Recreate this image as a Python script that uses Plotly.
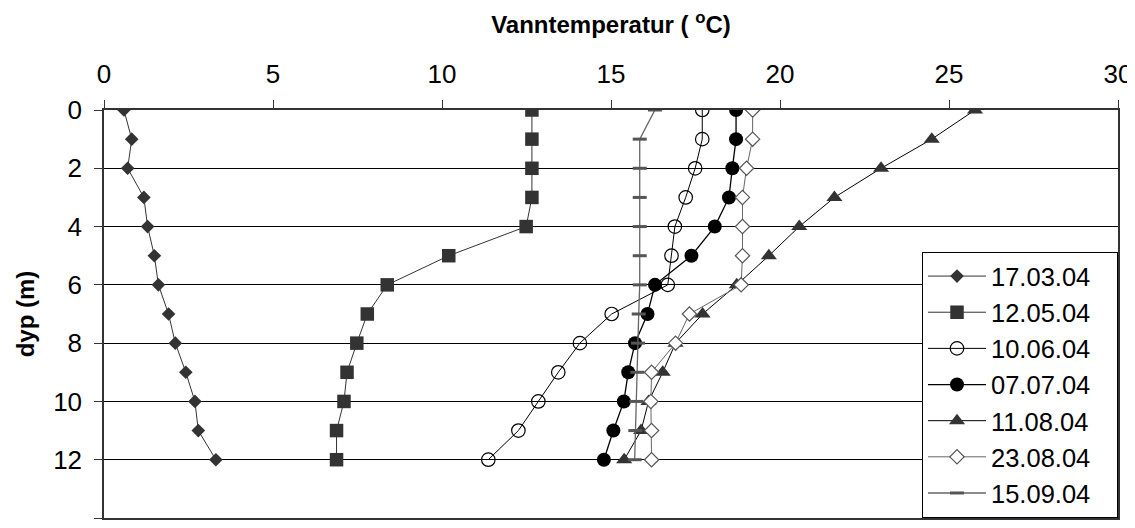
import plotly.graph_objects as go

depth = list(range(13))
dates = ["17.03.04", "12.05.04", "10.06.04", "07.07.04", "11.08.04", "23.08.04", "15.09.04"]
t_1703 = [0.59, 0.82, 0.70, 1.18, 1.29, 1.49, 1.61, 1.91, 2.11, 2.42, 2.69, 2.79, 3.31]
t_1205 = [12.66, 12.66, 12.66, 12.66, 12.49, 10.20, 8.38, 7.79, 7.48, 7.19, 7.10, 6.88, 6.88]
t_1006 = [17.70, 17.70, 17.49, 17.21, 16.89, 16.79, 16.68, 15.02, 14.08, 13.44, 12.85, 12.26, 11.37]
t_0707 = [18.70, 18.70, 18.59, 18.49, 18.07, 17.38, 16.30, 16.08, 15.71, 15.51, 15.38, 15.07, 14.79]
t_1108 = [25.77, 24.49, 22.99, 21.61, 20.57, 19.67, 18.72, 17.71, 16.91, 16.53, 16.11, 15.89, 15.39]
t_2308 = [19.19, 19.19, 19.01, 18.89, 18.89, 18.89, 18.85, 17.32, 16.91, 16.20, 16.18, 16.20, 16.20]
t_1509 = [16.30, 15.85, 15.85, 15.85, 15.85, 15.85, 15.85, 15.82, 15.80, 15.78, 15.75, 15.72, 15.70]

x_ticks = [0, 5, 10, 15, 20, 25, 30]
y_ticks = [0, 2, 4, 6, 8, 10, 12, 14]

FONT = "Liberation Sans, Arial, sans-serif"

series = [
    (t_1703, dict(symbol="diamond", size=10.5, color="#333333"), dict(color="#333333", width=1)),
    (t_1205, dict(symbol="square", size=13.5, color="#333333"), dict(color="#333333", width=1)),
    (t_1006, dict(symbol="circle-open", size=13.5, color="#000000", line=dict(width=1.2)), dict(color="#000000", width=1)),
    (t_0707, dict(symbol="circle", size=14, color="#000000"), dict(color="#000000", width=1.3)),
    (t_1108, dict(symbol="triangle-up", size=14, color="#333333"), dict(color="#000000", width=1)),
    (t_2308, dict(symbol="diamond", size=11, color="#ffffff", line=dict(color="#555555", width=1.2)), dict(color="#666666", width=1)),
    (t_1509, dict(symbol="line-ew", size=10, color="#555555", line=dict(color="#555555", width=3)), dict(color="#666666", width=1.3)),
]

PAD = "\u00a0\u00a0\u00a0"  # right padding inside the legend box

fig = go.Figure()
for name, (vals, mk, ln) in zip(dates, series):
    fig.add_trace(go.Scatter(x=vals, y=depth, mode="lines+markers", name=name + PAD,
                             marker=mk, line=ln))

# page body has an 8px margin; size the figure so it fills the window exactly
fig.update_layout(
    width=1127, height=520,
    margin=dict(l=96, r=17, t=102, b=10),
    paper_bgcolor="white", plot_bgcolor="white",
    font=dict(family=FONT, size=26, color="#000000"),
    showlegend=True,
    legend=dict(x=1, xanchor="right", y=0, yanchor="bottom",
                bgcolor="white", bordercolor="#000000", borderwidth=1,
                font=dict(size=25.5, family=FONT), tracegroupgap=0,
                itemwidth=58),
    xaxis=dict(
        side="top", range=[0, 30], tickvals=x_ticks, ticktext=[str(v) for v in x_ticks],
        showgrid=False, zeroline=False, showline=True, mirror=True,
        linecolor="#333333", linewidth=1.5,
        ticks="outside", ticklen=8, tickcolor="#333333", tickwidth=1,
        ticklabelstandoff=7, ticklabeloverflow="allow",
        tickfont=dict(size=26, family=FONT),
        title=dict(text="<b>Vanntemperatur ( <sup>o</sup>C)</b>",
                   font=dict(size=24, family=FONT), standoff=18),
        automargin=False,
    ),
    yaxis=dict(
        range=[14, 0], tickvals=y_ticks, ticktext=[str(v) for v in y_ticks],
        showgrid=True, gridcolor="#000000", gridwidth=1,
        zeroline=False, showline=True, mirror=True,
        linecolor="#333333", linewidth=1.5,
        ticks="outside", ticklen=8, tickcolor="#333333", tickwidth=1,
        ticklabelstandoff=7,
        tickfont=dict(size=26, family=FONT),
        title=dict(text="<b>dyp (m)</b>", font=dict(size=24, family=FONT), standoff=12),
        automargin=False,
    ),
)

fig.write_html("out.html")
